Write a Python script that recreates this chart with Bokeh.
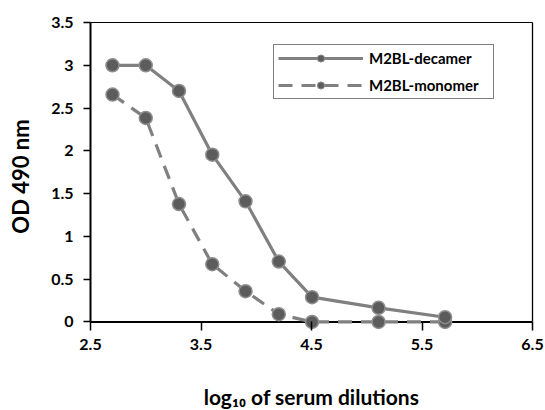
from bokeh.plotting import figure
from bokeh.models import (Range1d, FixedTicker, LinearAxis, Legend,
                          LegendItem, ColumnDataSource, Span)
from bokeh.embed import file_html
from bokeh.resources import INLINE

# ---- data ----
log_dilution = [2.699, 3.0, 3.301, 3.602, 3.903, 4.204, 4.505, 5.107, 5.709]
decamer_od = [3.0, 3.0, 2.70, 1.955, 1.41, 0.706, 0.29, 0.165, 0.055]
monomer_od = [2.657, 2.384, 1.378, 0.675, 0.36, 0.09, 0.0, 0.0, 0.0]
series_names = ["M2BL-decamer", "M2BL-monomer"]
x_ticks = [2.5, 3.5, 4.5, 5.5, 6.5]
x_tick_labels = ["2.5", "3.5", "4.5", "5.5", "6.5"]
y_ticks = [0, 0.5, 1, 1.5, 2, 2.5, 3, 3.5]
y_tick_labels = ["0", "0.5", "1", "1.5", "2", "2.5", "3", "3.5"]
y_title = "OD 490 nm"
x_title = "log\u2081\u2080 of serum dilutions"

LINE = "#808080"
MARK = "#5c5c5c"
EDGE = "#8e8e8e"
FONT = "Lato"

p = figure(frame_width=442, frame_height=308,
           x_range=Range1d(2.5, 6.5), y_range=Range1d(-0.1, 3.5),
           output_backend="svg", toolbar_location=None,
           min_border_left=90, min_border_right=13, min_border_top=22,
           min_border_bottom=80, background_fill_color="white",
           border_fill_color="white")
p.outline_line_color = None
p.grid.visible = False


def style_ticks(ax):
    ax.minor_tick_out = 0
    ax.minor_tick_in = 0
    ax.major_tick_line_width = 1.5
    ax.major_tick_line_color = "black"
    ax.major_label_text_font = FONT
    ax.major_label_text_font_style = "bold"
    ax.major_label_text_font_size = "16px"
    ax.major_label_text_color = "black"


xa = p.xaxis[0]
xa.ticker = FixedTicker(ticks=x_ticks)
xa.major_label_overrides = dict(zip(x_ticks, x_tick_labels))
xa.axis_line_color = None
xa.major_tick_out = 0
xa.major_tick_in = 9
xa.major_label_standoff = 8
style_ticks(xa)

ya = p.yaxis[0]
ya.ticker = FixedTicker(ticks=y_ticks)
ya.major_label_overrides = dict(zip(y_ticks, y_tick_labels))
ya.bounds = (0, 3.5)
ya.axis_line_width = 2
ya.axis_line_color = "black"
ya.major_tick_out = 7
ya.major_tick_in = 0
ya.major_label_standoff = 10
style_ticks(ya)

# x axis baseline drawn at y = 0
p.add_layout(Span(location=0, dimension="width", line_color="black",
                  line_width=2, level="underlay"))


def bare_axis(bounds, width, color="black"):
    return LinearAxis(ticker=FixedTicker(ticks=[]), bounds=bounds,
                      axis_line_width=width, axis_line_color=color,
                      major_tick_out=0, major_tick_in=0,
                      minor_tick_out=0, minor_tick_in=0,
                      major_label_text_font_size="0px",
                      major_label_standoff=0)


# frame border (top and right)
p.add_layout(bare_axis((0, 3.5), 1.3), "right")
p.add_layout(bare_axis((2.5, 6.5), 1.2), "above")

# axis titles, carried by tick-less axes so they can be placed freely
y_title_axis = bare_axis((0.272, 3.5), 0, None)
y_title_axis.axis_label = y_title
y_title_axis.axis_label_standoff = 15
y_title_axis.axis_label_text_font = FONT
y_title_axis.axis_label_text_font_style = "bold"
y_title_axis.axis_label_text_font_size = "22px"
y_title_axis.axis_label_text_color = "black"
p.add_layout(y_title_axis, "left")

x_title_axis = bare_axis((2.5, 6.36), 0, None)
x_title_axis.axis_label = x_title
x_title_axis.axis_label_standoff = 31
x_title_axis.axis_label_text_font = FONT
x_title_axis.axis_label_text_font_style = "bold"
x_title_axis.axis_label_text_font_size = "21px"
x_title_axis.axis_label_text_color = "black"
p.add_layout(x_title_axis, "below")

src = ColumnDataSource(dict(x=log_dilution, dec=decamer_od, mon=monomer_od))

mon_line = p.line("x", "mon", source=src, line_color=LINE, line_width=3.2,
                  line_dash="14 9")
mon_small = p.scatter("x", "mon", source=src, size=8, fill_color=MARK,
                      line_color=EDGE, line_width=1)
mon_big = p.scatter("x", "mon", source=src, size=13, fill_color=MARK,
                    line_color=EDGE, line_width=1.5)

dec_line = p.line("x", "dec", source=src, line_color=LINE, line_width=3.2,
                  line_join="round")
dec_small = p.scatter("x", "dec", source=src, size=8, fill_color=MARK,
                      line_color=EDGE, line_width=1)
dec_big = p.scatter("x", "dec", source=src, size=13, fill_color=MARK,
                    line_color=EDGE, line_width=1.5)

legend = Legend(items=[
    LegendItem(label=series_names[0], renderers=[dec_line, dec_small]),
    LegendItem(label=series_names[1], renderers=[mon_line, mon_small]),
], location=(183, 231), padding=4, spacing=9, glyph_width=85,
   glyph_height=18, label_height=18, label_width=120, label_standoff=6,
   margin=0, border_line_color="black", border_line_width=1.5,
   label_text_font=FONT, label_text_font_style="bold",
   label_text_font_size="15px", label_text_color="black",
   background_fill_color="white", background_fill_alpha=1)
p.add_layout(legend)

open("out.html", "w").write(file_html(p, INLINE))
